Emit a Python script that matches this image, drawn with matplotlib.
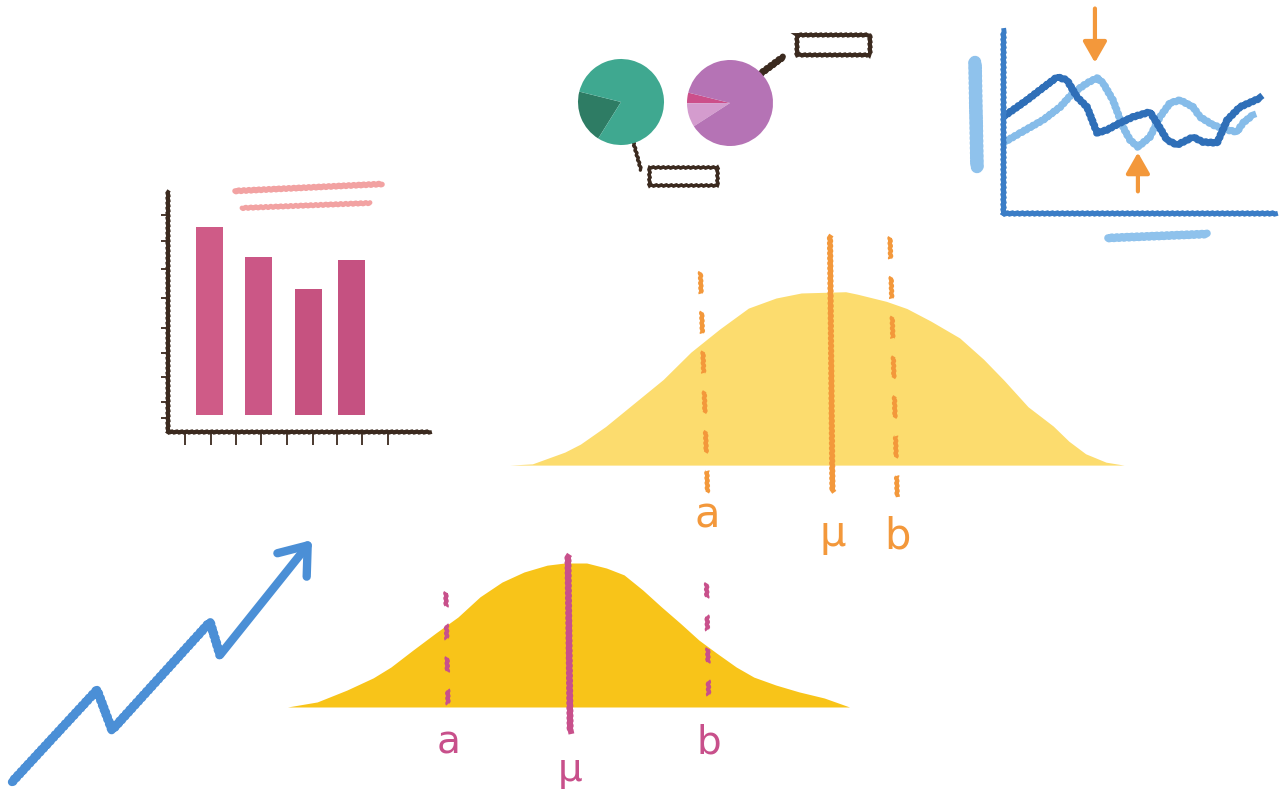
import numpy as np
import matplotlib.pyplot as plt
from matplotlib.patches import Rectangle

W, H = 1280, 808

# --- bar chart (upper left) ---
bar_pos = [1.6, 3.45, 5.35, 7.0]
bar_values = [7.85, 6.6, 5.25, 6.45]
bar_colors = ['#cf5b87', '#cb5786', '#c65280', '#c55181']
bar_yticks = [0.6, 1.25, 2.3, 3.3, 4.35, 5.6, 6.8, 7.95, 9.05]
bar_xticks = [0.65, 1.64, 2.6, 3.55, 4.54, 5.53, 6.45, 7.4, 8.4]

# --- pies ---
green_shares = [0.2, 0.8]
purple_shares = [0.04, 0.09, 0.87]

# --- line chart (upper right) ---
dark_x = [0, 8.8, 13.6, 19.9, 23.5, 27.2, 30.9, 34.6, 38.2, 43.0, 47.8, 54.0, 56.6,
          60.3, 64.0, 69.9, 73.5, 78.7, 82.4, 87.1, 94.5]
dark_y = [52.5, 61.7, 67.2, 74.3, 72.7, 63.4, 57.9, 43.7, 45.4, 49.2, 52.5, 55.2, 49.2,
          39.9, 37.2, 41.5, 38.8, 38.3, 50.8, 57.9, 62.8]
light_x = [0, 6.3, 14.7, 21.0, 25.7, 30.9, 34.6, 36.8, 40.4, 44.1, 46.7, 49.6, 54.0,
           57.7, 61.4, 65.1, 69.9, 72.4, 77.2, 82.4, 86.0, 88.2, 91.9]
light_y = [38.3, 43.7, 50.8, 57.9, 65.6, 71.0, 73.8, 71.0, 61.7, 47.0, 39.9, 36.1, 41.5,
           52.5, 60.1, 61.7, 57.9, 52.5, 48.1, 45.4, 44.3, 49.2, 53.6]

# --- big bell curve (x in sigma units, y density) ---
big_x = [-2.67, -2.48, -2.21, -2.08, -1.87, -1.63, -1.39, -1.16, -0.92, -0.68, -0.45,
         -0.24, 0.13, 0.23, 0.47, 0.64, 0.84, 1.08, 1.28, 1.45, 1.65, 1.86, 1.99, 2.13,
         2.30, 2.45]
big_y = [0.0, 0.003, 0.031, 0.05, 0.092, 0.148, 0.204, 0.269, 0.324, 0.374, 0.398,
         0.41, 0.413, 0.407, 0.39, 0.373, 0.343, 0.303, 0.252, 0.202, 0.139, 0.093,
         0.057, 0.027, 0.007, 0.0]
big_labels = ['a', 'μ', 'b']
big_marks = [-1.08, 0.0, 0.5]

# --- small bell curve ---
small_x = [-2.55, -2.28, -2.01, -1.77, -1.61, -1.41, -1.2, -1.0, -0.8, -0.6, -0.4, -0.19,
           -0.03, 0.17, 0.35, 0.51, 0.68, 0.85, 1.02, 1.19, 1.35, 1.53, 1.69, 1.89, 2.1,
           2.33, 2.56]
small_y = [0.0, 0.014, 0.047, 0.081, 0.111, 0.158, 0.206, 0.25, 0.306, 0.347, 0.375,
           0.394, 0.4, 0.4, 0.386, 0.367, 0.325, 0.278, 0.233, 0.186, 0.15, 0.111,
           0.083, 0.061, 0.042, 0.025, 0.0]
small_labels = ['a', 'μ', 'b']
small_marks = [-1.11, 0.0, 1.26]

# --- rising zigzag arrow ---
trend_x = [12, 97, 112, 210, 220, 312]
trend_y = [26, 118, 78, 186, 153, 268]

brown = '#3b2a1f'
orange = '#f3983b'
magenta = '#c8508b'

fig = plt.figure(figsize=(12.8, 8.08), dpi=100)


def px_axes(x0, y0, x1, y1):
    ax = fig.add_axes([x0 / W, 1 - y1 / H, (x1 - x0) / W, (y1 - y0) / H])
    ax.patch.set_alpha(0)
    return ax


def crayon(artist, scale=0.7, length=5, rand=1):
    # fine jitter so strokes look a bit like crayon
    artist.set_sketch_params(scale, length, rand)
    return artist


# background layer for placeholder strokes (titles, label boxes)
bg = fig.add_axes([0, 0, 1, 1])
bg.set_xlim(0, W)
bg.set_ylim(H, 0)
bg.axis('off')

for xs, ys, lw in [([235, 382], [191, 184], 4.0), ([242, 370], [208, 203], 3.5)]:
    ln, = bg.plot(xs, ys, color='#f2a2a2', lw=lw, solid_capstyle='round')
    crayon(ln)

ln, = bg.plot([630, 641], [130, 170], color=brown, lw=2.4, solid_capstyle='round')
crayon(ln)
crayon(bg.add_patch(Rectangle((649, 167), 68, 18, fill=False, ec=brown, lw=2.4)))
ln, = bg.plot([752, 783], [80, 57], color=brown, lw=4.5, solid_capstyle='round')
crayon(ln)
crayon(bg.add_patch(Rectangle((797, 35), 73, 20, fill=False, ec=brown, lw=2.8)))

ln, = bg.plot([975, 977], [62, 167], color='#8fc2ec', lw=9, solid_capstyle='round')
crayon(ln)
ln, = bg.plot([1108, 1207], [238, 234], color='#8fc2ec', lw=5.5, solid_capstyle='round')
crayon(ln)

# bar chart
ax = px_axes(168, 192, 430, 432)
ax.bar(bar_pos, bar_values, width=1.03, bottom=0.7, color=bar_colors)
ax.set_xlim(0, 10)
ax.set_ylim(0, 10)
for s in ['top', 'right']:
    ax.spines[s].set_visible(False)
for s in ['left', 'bottom']:
    ax.spines[s].set_color(brown)
    ax.spines[s].set_linewidth(2.8)
    crayon(ax.spines[s])
ax.set_yticks(bar_yticks)
ax.set_xticks(bar_xticks)
ax.tick_params(axis='y', length=5, width=1.3, color=brown, labelleft=False)
ax.tick_params(axis='x', length=9, width=1.3, color=brown, labelbottom=False)

# pies
axg = px_axes(578, 59, 664, 145)
axg.pie(green_shares, colors=['#2e7c64', '#3fa890'], startangle=166)
axg.set_xlim(-1, 1)
axg.set_ylim(-1, 1)

axp = px_axes(687, 60, 773, 146)
axp.pie(purple_shares, colors=['#cc4f8a', '#d49cce', '#b573b5'], startangle=166)
axp.set_xlim(-1, 1)
axp.set_ylim(-1, 1)

# line chart
axl = px_axes(1003, 30, 1275, 213)
crayon(axl.plot(light_x, light_y, color='#86bce9', lw=4.8, solid_joinstyle='round')[0])
crayon(axl.plot(dark_x, dark_y, color='#2f6fb8', lw=4.8, solid_joinstyle='round')[0])
axl.set_xlim(0, 100)
axl.set_ylim(0, 100)
axl.set_xticks([])
axl.set_yticks([])
for s in ['top', 'right']:
    axl.spines[s].set_visible(False)
for s in ['left', 'bottom']:
    axl.spines[s].set_color('#3b7dc6')
    axl.spines[s].set_linewidth(3.5)
    crayon(axl.spines[s])

i = int(np.argmax(light_y))
j = int(np.argmin(light_y))
axl.annotate('', xy=(light_x[i] - 0.8, light_y[i]), xytext=(0, 50),
             textcoords='offset points', annotation_clip=False,
             arrowprops=dict(arrowstyle='-|>,head_length=0.7,head_width=0.4',
                             color=orange, lw=3, shrinkA=0, shrinkB=11,
                             mutation_scale=18))
axl.annotate('', xy=(light_x[j], light_y[j]), xytext=(0, -32),
             textcoords='offset points', annotation_clip=False,
             arrowprops=dict(arrowstyle='-|>,head_length=0.7,head_width=0.4',
                             color=orange, lw=3, shrinkA=0, shrinkB=4,
                             mutation_scale=18))

# big bell curve
axb = px_axes(500, 230, 1140, 560)
axb.fill_between(big_x, 0, big_y, color='#fcdc6e', lw=0)
axb.set_xlim(-2.75, 2.583)
axb.set_ylim(-0.226, 0.56)
axb.axis('off')
big_tops = [0.46, 0.543, 0.543]
big_bottoms = [-0.071, -0.06, -0.076]
big_lab_y = [-0.12, -0.165, -0.17]
for k, (lab, xm) in enumerate(zip(big_labels, big_marks)):
    tilt = 0.02 if lab == 'μ' else 0.06
    style = '-' if lab == 'μ' else (0, (6, 5))
    ln, = axb.plot([xm, xm + tilt], [big_tops[k], big_bottoms[k]],
                   color=orange, lw=3.6 if lab == 'μ' else 3, linestyle=style)
    crayon(ln)
    axb.text(xm + tilt, big_lab_y[k], lab, color=orange, fontsize=30,
             ha='center', va='center')

# small bell curve
axs = px_axes(280, 540, 860, 808)
axs.fill_between(small_x, 0, small_y, color='#f8c419', lw=0)
axs.set_xlim(-2.618, 2.655)
axs.set_ylim(-0.2806, 0.4639)
axs.axis('off')
small_tops = [0.319, 0.417, 0.344]
small_bottoms = [-0.004, -0.067, 0.011]
small_lab_y = [-0.1, -0.175, -0.1]
for k, (lab, xm) in enumerate(zip(small_labels, small_marks)):
    style = '-' if lab == 'μ' else (0, (4, 5))
    ln, = axs.plot([xm, xm + 0.02], [small_tops[k], small_bottoms[k]],
                   color=magenta, lw=4.2 if lab == 'μ' else 3, linestyle=style)
    crayon(ln)
    axs.text(xm + 0.02, small_lab_y[k], lab, color=magenta, fontsize=28,
             ha='center', va='center')

# zigzag arrow
axz = px_axes(0, 520, 330, 808)
axz.set_xlim(0, 330)
axz.set_ylim(0, 288)
axz.axis('off')
crayon(axz.plot(trend_x[:-1], trend_y[:-1], color='#4b8fd6', lw=6,
                solid_joinstyle='round', solid_capstyle='round')[0])
axz.annotate('', xy=(trend_x[-1], trend_y[-1]), xytext=(trend_x[-2], trend_y[-2]),
             arrowprops=dict(arrowstyle='->,head_length=0.6,head_width=0.45',
                             color='#4b8fd6', lw=6, shrinkA=0, shrinkB=0,
                             mutation_scale=30, capstyle='round',
                             joinstyle='round'))

fig.savefig('out.png', dpi=100)
